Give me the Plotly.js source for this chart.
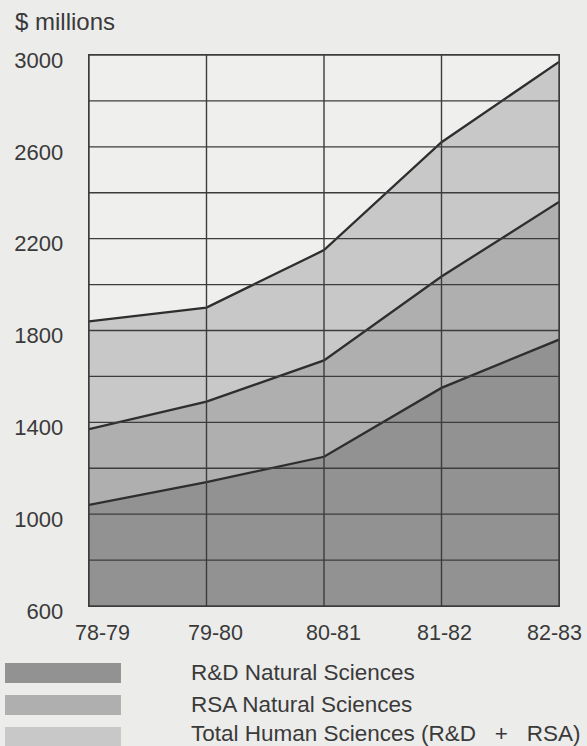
<!DOCTYPE html>
<html>
<head>
<meta charset="utf-8">
<script src="https://cdn.plot.ly/plotly-3.0.1.min.js"></script>
<style>
  html, body { margin: 0; padding: 0; background: #ececea; }
  #chart { width: 587px; height: 746px; }
</style>
</head>
<body>
<div id="chart"></div>
<script>
// ---- data ----
const periods = ['78-79', '79-80', '80-81', '81-82', '82-83'];
const rdNatural = [1040, 1140, 1250, 1550, 1760];      // R&D Natural Sciences
const rsaNatural = [330, 350, 420, 485, 600];          // RSA Natural Sciences (stacked on top)
const humanTotal = [470, 410, 480, 585, 610];          // Total Human Sciences (R&D + RSA) (stacked on top)
const seriesNames = ['R&D Natural Sciences', 'RSA Natural Sciences', 'Total Human Sciences (R&D\u00a0\u00a0\u00a0+\u00a0\u00a0\u00a0RSA)'];
const gridVals = [600, 800, 1000, 1200, 1400, 1600, 1800, 2000, 2200, 2400, 2600, 2800, 3000];
const yTickVals = [600, 1000, 1400, 1800, 2200, 2600, 3000];
const yTickText = ['600', '1000', '1400', '1800', '2200', '2600', '3000'];
const yUnit = '$ millions';

// ---- styles ----
const fills = ['#929292', '#afafaf', '#c8c8c8'];
const lineCol = '#2e2e2e';
const gridCol = '#3c3c3c';
const txtCol = '#3a3a3a';
const fontFam = 'Liberation Sans, Arial, Helvetica, sans-serif';
const xLabelShift = [13, 9, 9, 3, -5];   // horizontal nudge of each period label (px)

const seriesVals = [rdNatural, rsaNatural, humanTotal];
const traces = seriesVals.map((vals, i) => ({
  type: 'scatter',
  mode: 'lines',
  x: periods,
  y: vals,
  name: seriesNames[i],
  stackgroup: 'one',
  fill: 'tonexty',
  fillcolor: fills[i],
  line: { color: lineCol, width: 2.3, shape: 'linear' },
  hoverinfo: 'x+y+name'
}));

const shapes = [];
// horizontal gridlines above the fills
gridVals.forEach(v => shapes.push({
  type: 'line', xref: 'paper', yref: 'y', x0: 0, x1: 1, y0: v, y1: v,
  line: { color: gridCol, width: 1.4 }, layer: 'above'
}));
// vertical gridlines at each period
periods.forEach(p => shapes.push({
  type: 'line', xref: 'x', yref: 'paper', x0: p, x1: p, y0: 0, y1: 1,
  line: { color: gridCol, width: 1.4 }, layer: 'above'
}));

const annotations = [];
// period labels under the axis
periods.forEach((p, i) => annotations.push({
  xref: 'x', yref: 'paper', x: p, y: 0, xanchor: 'center', yanchor: 'middle',
  yshift: -27, xshift: xLabelShift[i], showarrow: false,
  text: p, font: { family: fontFam, size: 21.5, color: txtCol }
}));

// custom legend (swatches + labels)
const legTop = [-0.1034, -0.1615, -0.2196];
const legText = [-0.1215, -0.1796, -0.2323];
seriesNames.forEach((n, i) => {
  shapes.push({
    type: 'rect', xref: 'paper', yref: 'paper',
    x0: -0.1787, x1: 0.068, y0: legTop[i], y1: legTop[i] - 0.0363,
    fillcolor: fills[i], line: { width: 0 }
  });
  annotations.push({
    xref: 'paper', yref: 'paper', x: 0.2128, y: legText[i],
    xanchor: 'left', yanchor: 'middle', showarrow: false,
    text: n, font: { family: fontFam, size: 22.5, color: txtCol }
  });
});
annotations.push({
  xref: 'paper', yref: 'paper', x: -0.1617, y: 1.06,
  xanchor: 'left', yanchor: 'middle', showarrow: false,
  text: yUnit, font: { family: fontFam, size: 24, color: txtCol }
});

const layout = {
  width: 587, height: 746,
  margin: { l: 89, r: 28, t: 55, b: 140 },
  paper_bgcolor: '#ececea',
  plot_bgcolor: '#efefed',
  showlegend: false,
  font: { family: fontFam, color: txtCol },
  xaxis: {
    type: 'category', range: [0, 4], showgrid: false, zeroline: false,
    showline: true, linecolor: gridCol, linewidth: 1.4, mirror: true,
    ticks: '', showticklabels: false,
    layer: 'above traces', fixedrange: true
  },
  yaxis: {
    range: [600, 3000], showgrid: false, zeroline: false,
    showline: true, linecolor: gridCol, linewidth: 1.4, mirror: true,
    tickvals: yTickVals, ticktext: yTickText,
    ticks: '', ticklabelstandoff: 20, ticklabelshift: 5,
    tickfont: { family: fontFam, size: 22, color: txtCol },
    layer: 'above traces', fixedrange: true
  },
  shapes: shapes,
  annotations: annotations
};

Plotly.newPlot('chart', traces, layout, { displayModeBar: false, staticPlot: true });
</script>
</body>
</html>
